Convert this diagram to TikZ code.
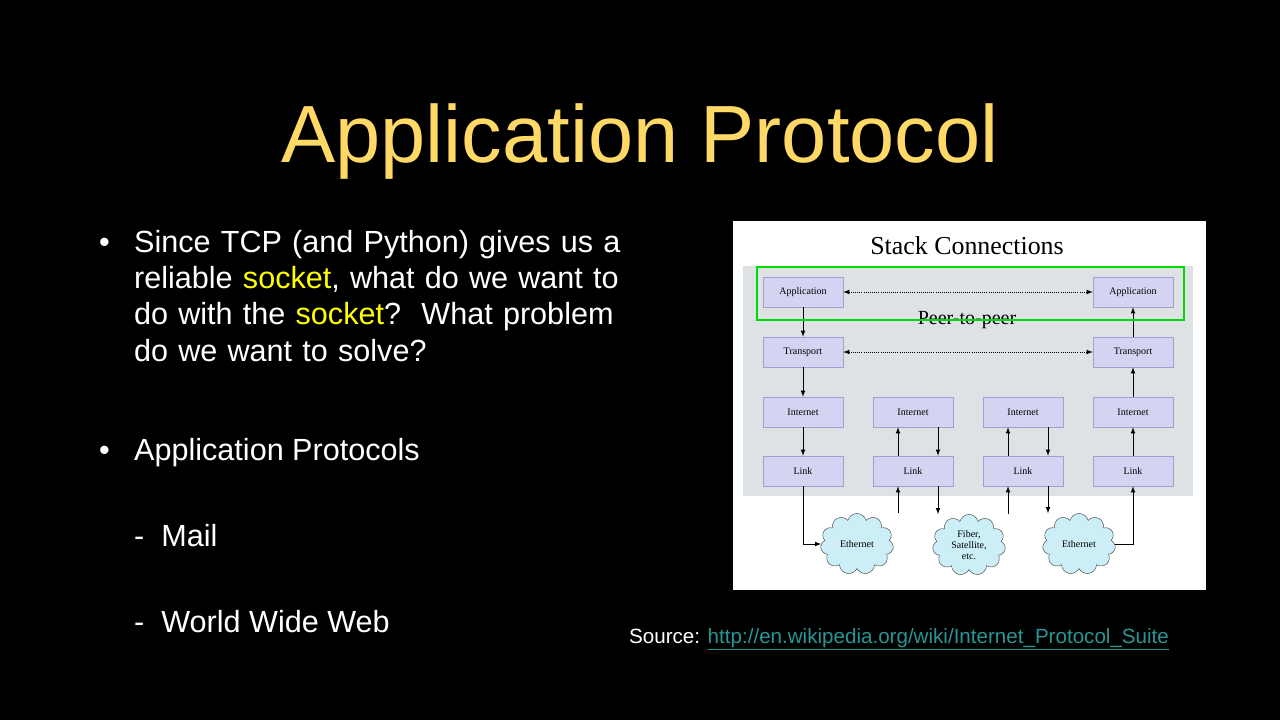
\documentclass[tikz,border=0pt]{standalone}
\usepackage{fontspec}
\setmainfont{Liberation Sans}
\newfontfamily\diagfont{Liberation Serif}
\usetikzlibrary{shapes.symbols}
\definecolor{titlecol}{RGB}{255,217,102}
\definecolor{sockcol}{RGB}{255,255,0}
\definecolor{layerfill}{RGB}{212,212,242}
\definecolor{layerdraw}{RGB}{160,160,210}
\definecolor{stackbg}{RGB}{222,226,228}
\definecolor{cloudfill}{RGB}{204,238,246}
\definecolor{linkcol}{RGB}{40,150,150}
\tikzset{
  layer/.style={draw=layerdraw, fill=layerfill, minimum width=68pt, minimum height=25.5pt, font=\diagfont\fontsize{8.5}{9}\selectfont},
  net/.style={cloud, cloud puffs=11, aspect=1.2, draw=black!70, fill=cloudfill, minimum width=62pt, minimum height=52pt, inner sep=0pt, align=center, font=\diagfont\fontsize{8.5}{9.5}\selectfont},
  flow/.style={->, >=latex, thick},
  peer/.style={<->, >=latex, densely dotted, thick},
  bullettext/.style={anchor=base west, text=white, font=\fontsize{26}{31}\selectfont}
}
\begin{document}
\begin{tikzpicture}[x=0.85pt, y=-0.85pt]
  \fill[black] (0,0) rectangle (1280,720);
  \useasboundingbox (0,0) rectangle (1280,720);
  % title
  \node[text=titlecol, font=\fontsize{69}{80}\selectfont, anchor=base] (title) at (640,162) {Application Protocol};
  % bullets
  \node[bullettext] (b1) at (95,252) {\textbullet};
  \node[bullettext, align=left, text width=560pt] (q) at (130,252) {Since TCP (and Python) gives us a\\
    reliable \textcolor{sockcol}{socket}, what do we want to\\
    do with the \textcolor{sockcol}{socket}?\ \ What problem\\
    do we want to solve?};
  \node[bullettext] (b2) at (95,460) {\textbullet};
  \node[bullettext] (ap) at (130,460) {Application Protocols};
  \node[bullettext] (mail) at (130,546) {-\ \ Mail};
  \node[bullettext] (www) at (130,632) {-\ \ World Wide Web};
  % source line
  \node[anchor=base west, text=white, font=\fontsize{17.5}{20}\selectfont] (src) at (625,643)
    {Source: \textcolor{linkcol}{\underline{http://en.wikipedia.org/wiki/Internet\_Protocol\_Suite}}};
  % picture panel
  \fill[white] (733,221) rectangle (1206,590);
  \fill[stackbg] (743,266) rectangle (1193,496);
  \node[font=\diagfont\fontsize{22}{24}\selectfont] (stk) at (967,246) {Stack Connections};
  \node[font=\diagfont\fontsize{17}{18}\selectfont] (p2p) at (967,320) {Peer-to-peer};
  % layers
  \foreach \c/\x in {1/803,2/913,3/1023,4/1133} {
    \node[layer] (int\c) at (\x,412) {Internet};
    \node[layer] (lnk\c) at (\x,471) {Link};
  }
  \foreach \c/\x in {1/803,4/1133} {
    \node[layer] (app\c) at (\x,292) {Application};
    \node[layer] (tra\c) at (\x,352) {Transport};
  }
  \node[net] (eth1) at (857,544) {Ethernet};
  \node[net] (fib) at (969,545) {Fiber,\\Satellite,\\etc.};
  \node[net] (eth2) at (1079,544) {Ethernet};
  % peer links
  \draw[peer] (app1) -- (app4);
  \draw[peer] (tra1) -- (tra4);
  % sending side
  \draw[flow] (app1) -- (tra1);
  \draw[flow] (tra1) -- (int1);
  \draw[flow] (int1) -- (lnk1);
  \draw[flow] (lnk1) |- (eth1);
  % routers
  \draw[flow] (eth1.north -| 898,0) -- (lnk2.south -| 898,0);
  \draw[flow] (lnk2.north -| 898,0) -- (int2.south -| 898,0);
  \draw[flow] (int2.south -| 938,0) -- (lnk2.north -| 938,0);
  \draw[flow] (lnk2.south -| 938,0) -- (fib.north -| 938,0);
  \draw[flow] (fib.north -| 1008,0) -- (lnk3.south -| 1008,0);
  \draw[flow] (lnk3.north -| 1008,0) -- (int3.south -| 1008,0);
  \draw[flow] (int3.south -| 1048,0) -- (lnk3.north -| 1048,0);
  \draw[flow] (lnk3.south -| 1048,0) -- (eth2.north -| 1048,0);
  % receiving side
  \draw[flow] (eth2) -| (lnk4);
  \draw[flow] (lnk4) -- (int4);
  \draw[flow] (int4) -- (tra4);
  \draw[flow] (tra4) -- (app4);
  % highlight
  \draw[green!85!black, line width=2.5pt] (757,267) rectangle (1184,320);
\end{tikzpicture}
\end{document}
